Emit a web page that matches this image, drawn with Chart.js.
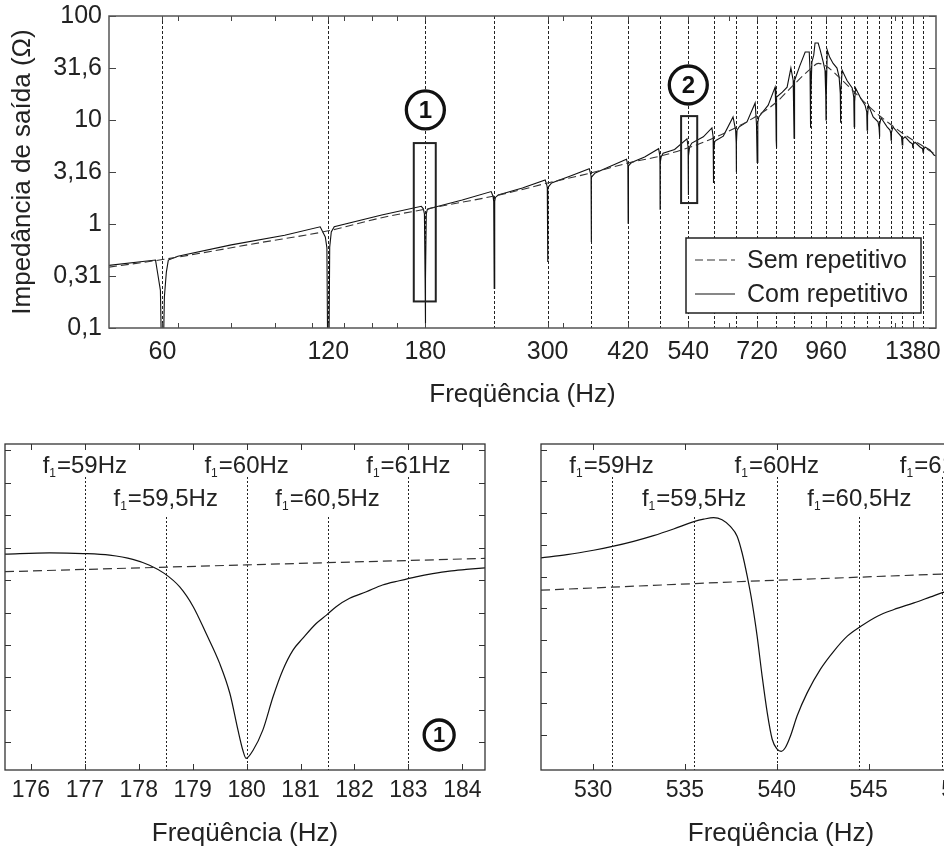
<!DOCTYPE html>
<html>
<head>
<meta charset="utf-8">
<script src="https://cdn.jsdelivr.net/npm/chart.js@4/dist/chart.umd.min.js"></script>
<style>
html,body{margin:0;padding:0;background:#fff;overflow:hidden;width:944px;height:850px;}
#wrap{position:relative;width:944px;height:850px;overflow:hidden;background:#fff;}
.c{position:absolute;}
</style>
</head>
<body>
<div id="wrap">
  <canvas id="cTop" class="c" width="944" height="430" style="left:0;top:0;width:944px;height:430px"></canvas>
  <canvas id="cBL" class="c" width="500" height="420" style="left:0;top:430px;width:500px;height:420px"></canvas>
  <canvas id="cBR" class="c" width="560" height="420" style="left:500px;top:430px;width:560px;height:420px"></canvas>
</div>
<script>
// ================= DATA =================
const legendLabels = ['Sem repetitivo', 'Com repetitivo'];
const xTitle = 'Freqüência (Hz)';
const yTitle = 'Impedância de saída (Ω)';

// top chart (log-log)
const harmonics = [60,120,180,240,300,360,420,480,540,600,660,720,780,840,900,960,1020,1080,1140,1200,1260,1320,1380,1440];
const topXTicks = [60,120,180,300,420,540,720,960,1380];
const topXMinor = [64,80,96,112,128,144,160,320,640,1280];
const topYTicks = [0.1,0.316,1,3.16,10,31.6,100];
const topYLabels = ['0,1','0,31','1','3,16','10','31,6','100'];

const semFreq = [48,60,90,120,150,180,210,240,270,300,360,420,480,540,600,660,720,780,840,900,930,960,1020,1080,1140,1200,1260,1320,1380,1440,1520];
const semZ    = [0.385,0.455,0.66,0.86,1.15,1.39,1.62,1.86,2.15,2.48,3.1,3.86,4.5,5.4,6.7,8.5,11.0,14.8,22,31,35,33,25,18.6,14,11,9.0,7.5,6.4,5.6,4.6];

const comFreq = [
  48, 58.3, 58.8, 59.5, 59.8, 60, 60.2, 60.5, 61, 61.5, 64,
  80, 100, 116, 118.5, 119.3, 119.7, 120, 120.3, 120.7, 121.5, 123,
  150, 177, 178.5, 179.3, 179.8, 180, 180.2, 180.7, 181.5, 184,
  210, 237, 238.8, 239.5, 240, 240.5, 241.2, 244,
  270, 297, 299, 299.6, 300, 300.4, 301.5, 305,
  330, 357, 359.2, 359.7, 360, 360.3, 362, 366,
  390, 417, 419.5, 420, 420.5, 422, 426,
  450, 477, 479.3, 479.7, 480, 480.3, 482, 486,
  510, 537, 539.5, 540, 540.5, 543, 548,
  575, 596, 599, 599.6, 600, 600.4, 603, 607,
  625, 651, 658, 659.6, 660, 660.4, 662, 668,
  690, 714, 718, 720, 722, 725,
  754, 776, 778.5, 779.6, 780, 780.4, 782,
  800, 816, 829, 837, 839.5, 840, 840.5, 843,
  860, 880, 895, 898, 899.5, 900, 900.5, 905,
  912, 917, 929, 937, 949, 956, 959, 960, 961, 965,
  975, 989, 1005, 1014, 1019, 1020, 1021, 1027,
  1048, 1071, 1078, 1080, 1082, 1086,
  1107, 1130, 1138, 1140, 1142, 1146,
  1169, 1193, 1198, 1200, 1202, 1208,
  1239, 1254, 1258, 1260, 1262, 1270,
  1297, 1316, 1320, 1323, 1336,
  1364, 1377, 1380, 1383, 1393,
  1422, 1437, 1440, 1443, 1452,
  1482, 1507, 1520
];
const comZ = [
  0.40, 0.45, 0.34, 0.23, 0.05, 0.03, 0.05, 0.20, 0.345, 0.45, 0.49,
  0.63, 0.78, 0.94, 0.75, 0.59, 0.05, 0.03, 0.05, 0.60, 0.84, 0.94,
  1.22, 1.48, 1.40, 1.25, 0.30, 0.11, 0.30, 1.25, 1.38, 1.42,
  1.70, 2.05, 1.85, 1.65, 0.24, 1.65, 1.80, 1.90,
  2.22, 2.65, 2.37, 2.22, 0.43, 2.22, 2.30, 2.48,
  2.90, 3.40, 3.00, 2.90, 0.67, 2.80, 2.90, 3.10,
  3.60, 4.20, 3.70, 1.02, 3.60, 3.70, 3.90,
  4.40, 5.30, 4.60, 3.86, 1.39, 3.90, 4.40, 4.80,
  5.20, 6.60, 5.50, 1.90, 4.50, 5.50, 6.00,
  6.90, 8.40, 6.90, 6.00, 2.48, 5.00, 6.20, 6.40,
  7.00, 10.7, 8.00, 6.00, 3.16, 6.00, 8.00, 8.60,
  9.60, 14.6, 9.00, 3.90, 9.50, 10.7,
  13.9, 20.7, 12.5, 6.40, 5.40, 8.00, 16.6,
  18.5, 20.7, 31.6, 24.0, 8.60, 6.70, 12.0, 24.0,
  33.0, 45.0, 45.0, 30.0, 11.0, 8.40, 15.0, 36.0,
  42.0, 55.0, 55.0, 47.0, 36.0, 30.0, 17.0, 10.0, 17.0, 47.0,
  40.0, 35.0, 31.6, 26.0, 18.0, 9.40, 18.0, 30.0,
  24.0, 20.3, 16.6, 8.60, 15.0, 20.3,
  16.6, 13.9, 12.0, 8.00, 11.0, 13.9,
  10.7, 9.60, 8.50, 6.90, 9.00, 10.5,
  8.60, 8.00, 7.50, 6.40, 7.60, 8.60,
  7.50, 6.90, 5.75, 6.60, 6.90,
  6.10, 5.90, 5.40, 5.90, 6.10,
  5.50, 5.30, 4.90, 5.20, 5.50,
  5.15, 4.60, 4.50
];

// annotations of the top chart (data units)
const zoomBoxes = [{x0:171.5, x1:188, y0:0.18, y1:6.0}, {x0:524, x1:560.5, y0:1.59, y1:10.9}];
const zoomBadges = [{x:180, y:12.5, text:'1'}, {x:540, y:21.7, text:'2'}];

// detail 1 (around 180 Hz)
const z1Ticks = [176,177,178,179,180,181,182,183,184];
const z1YTicks = [1,2,3,4,5,6,7,8,9,10];
const z1Freq = [175.52,176.35,176.97,177.46,177.89,178.2,178.48,178.76,179.01,179.25,179.5,179.69,179.84,179.93,179.99,180.12,180.3,180.49,180.67,180.86,181.04,181.29,181.48,181.66,181.91,182.22,182.52,182.83,183.14,183.45,183.76,184.07,184.42];
const z1Com  = [6.80,6.84,6.82,6.77,6.64,6.46,6.20,5.79,5.18,4.35,3.43,2.50,1.37,0.75,0.50,0.75,1.37,2.40,3.22,3.84,4.20,4.66,4.92,5.18,5.44,5.64,5.85,5.98,6.10,6.20,6.28,6.33,6.38];
const z1SemFreq = [175.52,180,184.42];
const z1Sem     = [6.26,6.47,6.67];
const z1Markers = [177,178.5,180,181.5,183];

// detail 2 (around 540 Hz)
const z2Ticks = [530,535,540,545,550];
const z2YTicks = [1,2,3,4,5,6,7,8,9,10];
const z2Freq = [527.16,528.57,530.02,531.05,532.2,533.29,534.38,535.53,536.02,536.56,537.02,537.47,537.84,538.11,538.39,538.66,538.93,539.2,539.48,539.75,540.02,540.24,540.47,540.75,541.11,541.66,542.38,543.11,543.84,544.6,545.48,546.38,547.47,548.38,549.11,550.2];
const z2Com  = [6.59,6.69,6.83,6.95,7.11,7.29,7.50,7.74,7.81,7.86,7.79,7.58,7.27,6.75,6.01,5.17,4.12,2.87,1.71,0.87,0.56,0.49,0.61,0.98,1.61,2.34,3.08,3.65,4.12,4.44,4.75,4.96,5.17,5.36,5.51,5.68];
const z2SemFreq = [527.16,538.39,549.11,550.2];
const z2Sem     = [5.57,5.85,6.08,6.10];
const z2Markers = [531,535.5,540,544.5,549];

const markerF1 = ['59','59,5','60','60,5','61'];
const markerLevel = [0,1,0,1,0];
const z1Badges = [{x:183.57, y:1.22, text:'1'}];

// ================= RENDER =================
const FONT = "'Liberation Sans', Arial, Helvetica, sans-serif";
const INK = '#222';
Chart.defaults.font.family = FONT;
Chart.defaults.color = INK;

const pts = (xs, ys) => xs.map((x, i) => ({x, y: ys[i]}));

function line(ctx, x1, y1, x2, y2) { ctx.beginPath(); ctx.moveTo(x1, y1); ctx.lineTo(x2, y2); ctx.stroke(); }

function drawF1(ctx, cx, base, val) {
  const main = '24px ' + FONT, sub = '12px ' + FONT;
  ctx.font = main;
  const wf = ctx.measureText('f').width;
  const rest = '=' + val + 'Hz';
  const wr = ctx.measureText(rest).width;
  ctx.font = sub;
  const ws = ctx.measureText('1').width + 1;
  let x = cx - (wf + ws + wr) / 2;
  ctx.fillStyle = INK; ctx.textAlign = 'left'; ctx.textBaseline = 'alphabetic';
  ctx.font = main; ctx.fillText('f', x, base); x += wf;
  ctx.font = sub; ctx.fillText('1', x, base + 4); x += ws;
  ctx.font = main; ctx.fillText(rest, x, base);
}

function decoPlugin(cfg) {
  return {
    id: 'deco',
    beforeDatasetsDraw(chart) {
      const {ctx, chartArea: ca} = chart;
      const xs = chart.scales.x;
      ctx.save();
      ctx.beginPath(); ctx.rect(ca.left, ca.top, ca.width, ca.height); ctx.clip();
      ctx.strokeStyle = INK; ctx.lineWidth = 1; ctx.setLineDash(cfg.vDash);
      cfg.vlines.forEach((v, i) => {
        const px = Math.round(xs.getPixelForValue(v)) + 0.5;
        const top = ca.top + (cfg.vLevels ? (cfg.vLevels[i] ? 73 : 33) : 0);
        line(ctx, px, top, px, ca.bottom);
      });
      ctx.restore();
    },
    afterDatasetsDraw(chart) {
      const {ctx, chartArea: ca} = chart;
      const xs = chart.scales.x, ys = chart.scales.y;
      ctx.save();
      ctx.setLineDash([]);
      // ticks (inward)
      ctx.strokeStyle = cfg.tickColor; ctx.lineWidth = 1;
      cfg.xTicks.forEach(v => {
        const px = Math.round(xs.getPixelForValue(v)) + 0.5;
        if (px < ca.left || px > ca.right) return;
        line(ctx, px, ca.bottom, px, ca.bottom - cfg.xTickLen);
        line(ctx, px, ca.top, px, ca.top + cfg.xTickLen);
      });
      cfg.yTicks.forEach(v => {
        const py = Math.round(ys.getPixelForValue(v)) + 0.5;
        line(ctx, ca.left, py, ca.left + cfg.yTickLen, py);
        line(ctx, ca.right, py, ca.right - cfg.yTickLen, py);
      });
      // frame
      ctx.strokeStyle = cfg.frameColor; ctx.lineWidth = cfg.frameWidth;
      ctx.strokeRect(ca.left, ca.top, ca.width, ca.height);
      // marker labels
      if (cfg.markers) {
        cfg.markers.forEach((v, i) => {
          drawF1(ctx, xs.getPixelForValue(v), ca.top + (markerLevel[i] ? 62 : 29), markerF1[i]);
        });
      }
      // zoom boxes
      (cfg.rects || []).forEach(r => {
        const x0 = xs.getPixelForValue(r.x0), x1 = xs.getPixelForValue(r.x1);
        const y0 = ys.getPixelForValue(r.y0), y1 = ys.getPixelForValue(r.y1);
        ctx.strokeStyle = INK; ctx.lineWidth = 2;
        ctx.strokeRect(x0, y1, x1 - x0, y0 - y1);
      });
      // badges
      (cfg.badges || []).forEach(b => {
        const cx = xs.getPixelForValue(b.x), cy = ys.getPixelForValue(b.y);
        ctx.beginPath(); ctx.arc(cx, cy, cfg.badgeR, 0, Math.PI * 2);
        ctx.fillStyle = '#fff'; ctx.fill();
        ctx.strokeStyle = '#111'; ctx.lineWidth = 3.3; ctx.stroke();
        ctx.fillStyle = '#111'; ctx.font = 'bold ' + cfg.badgeFont + 'px ' + FONT;
        ctx.textAlign = 'center'; ctx.textBaseline = 'middle';
        ctx.fillText(b.text, cx, cy + 1);
      });
      // legend
      if (cfg.legend) {
        const w = 235, h = 75;
        const bx = ca.right - 15 - w, by = ca.bottom - 15 - h;
        ctx.fillStyle = '#fff'; ctx.fillRect(bx, by, w, h);
        ctx.strokeStyle = INK; ctx.lineWidth = 1.5; ctx.strokeRect(bx, by, w, h);
        chart.data.datasets.forEach((ds, i) => {
          const ly = by + 22 + i * 34;
          ctx.strokeStyle = ds.borderColor; ctx.lineWidth = 1.2;
          ctx.setLineDash(ds.borderDash || []);
          line(ctx, bx + 9, ly, bx + 49, ly);
          ctx.setLineDash([]);
          ctx.fillStyle = INK; ctx.font = '25px ' + FONT;
          ctx.textAlign = 'left'; ctx.textBaseline = 'middle';
          ctx.fillText(ds.label, bx + 61, ly + 1);
        });
      }
      ctx.restore();
    }
  };
}

const common = {
  responsive: false, animation: false, events: [], devicePixelRatio: 1,
  plugins: { legend: { display: false }, tooltip: { enabled: false } }
};

// ---- top chart
new Chart(document.getElementById('cTop'), {
  type: 'line',
  data: { datasets: [
    { label: legendLabels[0], data: pts(semFreq, semZ), borderColor: '#333', borderWidth: 1.1, borderDash: [8, 4], pointRadius: 0, cubicInterpolationMode: 'monotone', fill: false },
    { label: legendLabels[1], data: pts(comFreq, comZ), borderColor: '#111', borderWidth: 1.1, pointRadius: 0, tension: 0, fill: false }
  ]},
  options: Object.assign({}, common, {
    layout: { padding: { top: 16, right: 8, bottom: 0, left: 0 } },
    scales: {
      x: {
        type: 'logarithmic', min: 48, max: 1520,
        afterBuildTicks: s => { s.ticks = topXTicks.map(v => ({ value: v })); },
        afterFit: s => { s.height = 102; s.paddingLeft = 0; s.paddingRight = 0; },
        grid: { display: false, drawTicks: false }, border: { display: false },
        ticks: { autoSkip: false, maxRotation: 0, minRotation: 0, padding: 9, color: INK, font: { size: 25 }, callback: v => String(v) },
        title: { display: true, text: xTitle, color: INK, font: { size: 26, lineHeight: 1.2 }, padding: { top: 0, bottom: 20 } }
      },
      y: {
        type: 'logarithmic', min: 0.1, max: 100,
        afterBuildTicks: s => { s.ticks = topYTicks.map(v => ({ value: v })); },
        afterFit: s => { s.width = 109; s.paddingTop = 0; s.paddingBottom = 0; },
        grid: { display: false, drawTicks: false }, border: { display: false },
        ticks: { autoSkip: false, padding: 7, color: INK, font: { size: 25 }, callback: (v, i) => topYLabels[i] },
        title: { display: true, text: yTitle, color: INK, font: { size: 26, lineHeight: 1.2 }, padding: { top: 7, bottom: 0 } }
      }
    }
  }),
  plugins: [decoPlugin({
    vlines: harmonics, vDash: [3, 2],
    xTicks: topXTicks.concat(topXMinor), xTickLen: 5,
    yTicks: topYTicks, yTickLen: 7,
    tickColor: '#444', frameColor: '#555', frameWidth: 1.5,
    rects: zoomBoxes, badges: zoomBadges, badgeR: 19, badgeFont: 24, legend: true
  })]
});

function detailChart(id, cfg) {
  return new Chart(document.getElementById(id), {
    type: 'line',
    data: { datasets: [
      { label: legendLabels[0], data: pts(cfg.semF, cfg.semV), borderColor: '#333', borderWidth: 1.2, borderDash: [9, 5], pointRadius: 0, tension: 0, fill: false },
      { label: legendLabels[1], data: pts(cfg.comF, cfg.comV), borderColor: '#111', borderWidth: 1.2, pointRadius: 0, cubicInterpolationMode: 'monotone', fill: false }
    ]},
    options: Object.assign({}, common, {
      layout: { padding: { top: 14, left: cfg.padL, right: cfg.padR, bottom: 0 } },
      scales: {
        x: {
          type: 'linear', min: cfg.xmin, max: cfg.xmax,
          afterBuildTicks: s => { s.ticks = cfg.ticks.map(v => ({ value: v })); },
          afterFit: s => { s.height = 80; s.paddingLeft = 0; s.paddingRight = 0; },
          grid: { display: false, drawTicks: false }, border: { display: false },
          ticks: { autoSkip: false, maxRotation: 0, minRotation: 0, padding: 7, color: INK, font: { size: 23 }, callback: v => String(v) },
          title: { display: true, text: xTitle, color: INK, font: { size: 26, lineHeight: 1.2 }, padding: { top: 0, bottom: 1 } }
        },
        y: { type: 'linear', display: false, min: cfg.ymin, max: cfg.ymax }
      }
    }),
    plugins: [decoPlugin({
      vlines: cfg.markers, vLevels: markerLevel, vDash: [2, 2],
      xTicks: cfg.ticks, xTickLen: 6,
      yTicks: cfg.yTicks, yTickLen: 6,
      tickColor: '#333', frameColor: '#333', frameWidth: 1.3,
      markers: cfg.markers, badges: cfg.badges || [], badgeR: 15, badgeFont: 22
    })]
  });
}

detailChart('cBL', {
  semF: z1SemFreq, semV: z1Sem, comF: z1Freq, comV: z1Com,
  xmin: 175.52, xmax: 184.42, ymin: 0.14, ymax: 10.2,
  ticks: z1Ticks, yTicks: z1YTicks, markers: z1Markers, badges: z1Badges,
  padL: 5, padR: 15
});
detailChart('cBR', {
  semF: z2SemFreq, semV: z2Sem, comF: z2Freq, comV: z2Com,
  xmin: 527.16, xmax: 553.3, ymin: -0.1, ymax: 10.18,
  ticks: z2Ticks, yTicks: z2YTicks, markers: z2Markers,
  padL: 41, padR: 39
});
</script>
</body>
</html>
